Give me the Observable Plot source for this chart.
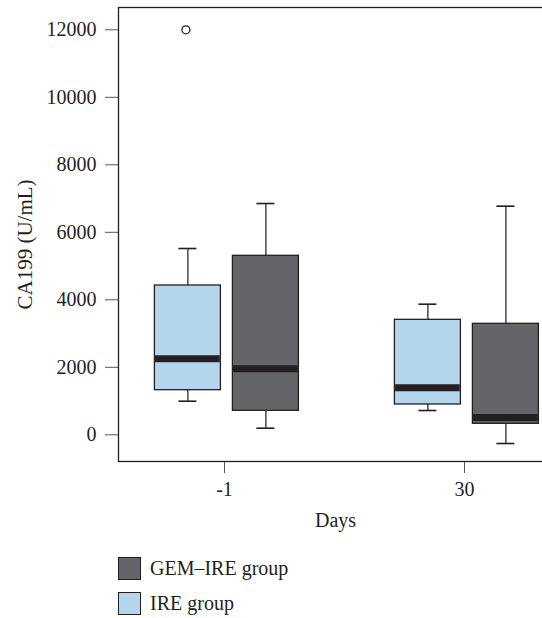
<!DOCTYPE html>
<html><head><meta charset="utf-8">
<script src="https://cdn.jsdelivr.net/npm/d3@7"></script>
<script src="https://cdn.jsdelivr.net/npm/@observablehq/plot@0.6"></script>
<style>
html,body{margin:0;padding:0;overflow:hidden;background:#fff;width:542px;height:618px;}
#chart{position:absolute;left:0;top:0;}
.leg{position:absolute;left:118px;font-family:"Liberation Serif",serif;font-size:20px;color:#231f20;display:flex;align-items:center;}
.sw{width:21px;height:21px;border:1.3px solid #231f20;margin-right:9px;box-sizing:border-box;}
</style></head><body>
<div id="chart"></div>
<div class="leg" style="top:557px"><span class="sw" style="background:#646569;width:23px;height:23px"></span><span id="l0"></span></div>
<div class="leg" style="top:592px"><span class="sw" style="background:#b3d5ee;width:23px;height:23px"></span><span id="l1"></span></div>
<script>
const days = ["-1", "30"];
const groups = ["GEM–IRE group", "IRE group"];
const groupColors = ["#646569", "#b3d5ee"];
// IRE group (blue)
const ireLow = [996, 720];
const ireQ1 = [1322, 898];
const ireMedian = [2252, 1393];
const ireQ3 = [4424, 3407];
const ireHigh = [5520, 3870];
// GEM-IRE group (grey)
const gemLow = [196, -258];
const gemQ1 = [711, 326];
const gemMedian = [1956, 513];
const gemQ3 = [5304, 3289];
const gemHigh = [6853, 6774];
// outliers
const outlierDay = ["-1"];
const outlierGroup = ["IRE group"];
const outlierValue = [12000];
const yTicks = [0, 2000, 4000, 6000, 8000, 10000, 12000];

document.getElementById("l0").textContent = groups[0];
document.getElementById("l1").textContent = groups[1];

const ire = days.map((d, i) => ({day: d, low: ireLow[i], q1: ireQ1[i], med: ireMedian[i], q3: ireQ3[i], high: ireHigh[i]}));
const gem = days.map((d, i) => ({day: d, low: gemLow[i], q1: gemQ1[i], med: gemMedian[i], q3: gemQ3[i], high: gemHigh[i]}));
const outliers = outlierDay.map((d, i) => ({day: d, group: outlierGroup[i], v: outlierValue[i]}));

const ink = "#231f20";
const shift = 2.4;
function boxMarks(rows, fill, side) {
  // side -1 = left box, +1 = right box
  const boxL = side < 0 ? 0 : 78, boxR = side < 0 ? 78 : 0;
  const capL = side < 0 ? 24 : 102, capR = side < 0 ? 102 : 24;
  const cdx = shift + side * 39;
  return [
    Plot.ruleX(rows, {x: "day", y1: "low", y2: "q1", dx: cdx, stroke: "#3a3a3c", strokeWidth: 1.4}),
    Plot.ruleX(rows, {x: "day", y1: "q3", y2: "high", dx: cdx, stroke: "#3a3a3c", strokeWidth: 1.4}),
    Plot.tickY(rows, {x: "day", y: "low", dx: shift, insetLeft: capL, insetRight: capR, stroke: ink, strokeWidth: 1.6}),
    Plot.tickY(rows, {x: "day", y: "high", dx: shift, insetLeft: capL, insetRight: capR, stroke: ink, strokeWidth: 1.6}),
    Plot.barY(rows, {x: "day", y1: "q1", y2: "q3", dx: shift, insetLeft: boxL, insetRight: boxR, fill, stroke: ink, strokeWidth: 1.3}),
    Plot.tickY(rows, {x: "day", y: "med", dx: shift, insetLeft: boxL + 0.7, insetRight: boxR + 0.7, stroke: ink, strokeWidth: 7, strokeLinecap: "butt"})
  ];
}

const chart = Plot.plot({
  width: 570,
  height: 535,
  marginLeft: 118,
  marginRight: 0,
  marginTop: 7,
  marginBottom: 74,
  style: {fontFamily: "'Liberation Serif', serif", fontSize: "20px", color: ink, maxWidth: "none", background: "#fff"},
  x: {type: "band", domain: days, paddingInner: 0.4, paddingOuter: 0.138, label: null},
  y: {domain: [-791, 12661], label: null},
  marks: [
    Plot.axisY({ticks: yTicks, tickSize: 13, tickPadding: 9, stroke: "#555", tickFormat: d => String(d), label: null, fontSize: 20}),
    Plot.axisX({tickSize: 12, tickPadding: 8, stroke: "#555", label: null, fontSize: 20}),
    Plot.frame({stroke: ink, strokeWidth: 1.3}),
    ...boxMarks(ire, groupColors[1], -1),
    ...boxMarks(gem, groupColors[0], 1),
    Plot.dot(outliers, {x: "day", y: "v", dx: shift - 41, r: 4, stroke: ink, fill: "#fff", strokeWidth: 1.3}),
    Plot.text(["CA199 (U/mL)"], {frameAnchor: "left", textAnchor: "middle", rotate: -90, dx: -93, dy: 10, text: d => d, fontSize: 21, fill: ink}),
    Plot.text(["Days"], {frameAnchor: "bottom", textAnchor: "middle", dx: -9, dy: 59, text: d => d, fontSize: 20, fill: ink, lineAnchor: "middle"})
  ]
});
document.getElementById("chart").appendChild(chart);
</script>
</body></html>
